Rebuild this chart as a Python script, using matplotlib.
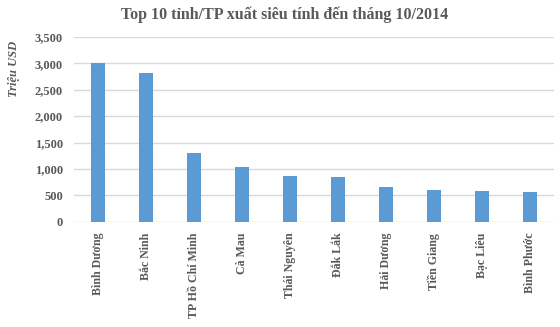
import matplotlib
matplotlib.use("Agg")
import matplotlib.pyplot as plt
import numpy as np

categories = ["Bình Dương", "Bắc Ninh", "TP Hồ Chí Minh", "Cà Mau", "Thái Nguyên",
              "Đắk Lắk", "Hải Dương", "Tiền Giang", "Bạc Liêu", "Bình Phước"]
values = [3000, 2820, 1305, 1035, 865, 845, 655, 600, 580, 560]
yticks = [0, 500, 1000, 1500, 2000, 2500, 3000, 3500]
title = "Top 10 tỉnh/TP xuất siêu tính đến tháng 10/2014"
ylabel = "Triệu USD"

plt.rcParams['font.family'] = ['Liberation Serif', 'DejaVu Serif']
txt = "#595959"

W, H = 560, 327
fig = plt.figure(figsize=(W/100, H/100), dpi=100)
ax = fig.add_axes([74/W, 1-221.7/H, 480/W, (221.7-36.9)/H])

x = np.arange(len(categories))
ax.bar(x, values, width=0.31, color="#5B9BD5", zorder=3)
ax.set_xlim(-0.5, len(categories)-0.5)
ax.set_ylim(0, 3500)
ax.set_yticks(yticks)
ax.set_yticklabels([f"{v:,}" for v in yticks], fontsize=9, fontweight='bold', color=txt)
ax.set_xticks(x)
ax.set_xticklabels(categories, rotation=90, fontsize=8.6, fontweight='bold', color=txt, va='top')
ax.tick_params(axis='both', length=0)
ax.tick_params(axis='y', pad=8)
ax.tick_params(axis='x', pad=8)
ax.grid(axis='y', color="#D9D9D9", linewidth=1, zorder=0)
for s in ax.spines.values():
    s.set_visible(False)

fig.text(13.5/W, 1-69/H, ylabel, rotation=90, ha='center', va='center',
         fontsize=9, fontweight='bold', fontstyle='italic', color=txt)
fig.text(285/W, 1-19/H, title, ha='center', va='baseline',
         fontsize=11.5, fontweight='bold', color=txt)

fig.savefig("out.png", dpi=100)
